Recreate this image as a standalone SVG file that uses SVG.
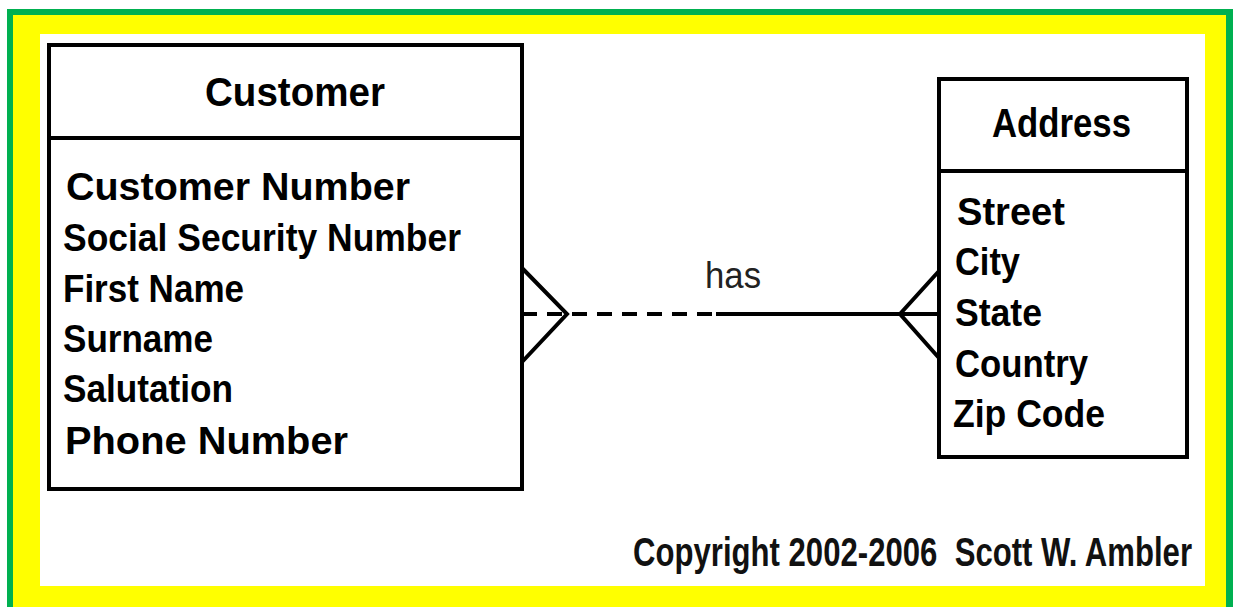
<svg xmlns="http://www.w3.org/2000/svg" width="1233" height="607" viewBox="0 0 1233 607">
  <style>
    .box { fill: #ffffff; stroke: #000000; stroke-width: 4; }
    .rule { stroke: #000000; stroke-width: 4; }
    .title { font-family: "Liberation Sans", Arial, sans-serif; font-weight: bold; font-size: 40px; fill: #000000; }
    .attr { font-family: "Liberation Sans", Arial, sans-serif; font-weight: bold; font-size: 38px; fill: #000000; }
    .link { fill: none; stroke: #000000; stroke-width: 4; }
    .dashed { stroke-dasharray: 15 10; }
    .label { font-family: "Liberation Sans", Arial, sans-serif; font-size: 36px; fill: #222222; }
    .copy { font-family: "Liberation Sans", Arial, sans-serif; font-weight: bold; font-size: 40px; fill: #111111; }
  </style>

  <!-- frame: green edge, yellow band, white canvas -->
  <rect x="0" y="0" width="1233" height="607" fill="#ffffff"/>
  <rect x="7" y="9" width="1226" height="598" fill="#00b050"/>
  <rect x="13" y="15" width="1213" height="592" fill="#ffff00"/>
  <rect x="40" y="34" width="1165" height="552" fill="#ffffff"/>

  <!-- relationship -->
  <g id="connectors">
    <line class="link dashed" x1="522" y1="314" x2="716" y2="314"/>
    <line class="link" x1="716" y1="314" x2="939" y2="314"/>
    <polyline class="link" points="522,268 567,314 522,362"/>
    <polyline class="link" points="939,271 900,314 939,358"/>
    <text class="label" x="705" y="288" textLength="56" lengthAdjust="spacingAndGlyphs">has</text>
  </g>

  <g id="customer">
    <rect class="box" x="49" y="45" width="473" height="444"/>
    <line class="rule" x1="49" y1="138" x2="522" y2="138"/>
    <text class="title" x="205" y="106" textLength="180" lengthAdjust="spacingAndGlyphs">Customer</text>
    <text class="attr" x="66" y="200" textLength="344" lengthAdjust="spacingAndGlyphs">Customer Number</text>
    <text class="attr" x="63" y="251" textLength="398" lengthAdjust="spacingAndGlyphs">Social Security Number</text>
    <text class="attr" x="63" y="302" textLength="181" lengthAdjust="spacingAndGlyphs">First Name</text>
    <text class="attr" x="63" y="352" textLength="150" lengthAdjust="spacingAndGlyphs">Surname</text>
    <text class="attr" x="63" y="402" textLength="170" lengthAdjust="spacingAndGlyphs">Salutation</text>
    <text class="attr" x="65" y="454" textLength="283" lengthAdjust="spacingAndGlyphs">Phone Number</text>
  </g>

  <g id="address">
    <rect class="box" x="939" y="79" width="248" height="378"/>
    <line class="rule" x1="939" y1="171" x2="1187" y2="171"/>
    <text class="title" x="992" y="137" textLength="139" lengthAdjust="spacingAndGlyphs">Address</text>
    <text class="attr" x="957" y="225" textLength="108" lengthAdjust="spacingAndGlyphs">Street</text>
    <text class="attr" x="955" y="275" textLength="65" lengthAdjust="spacingAndGlyphs">City</text>
    <text class="attr" x="955" y="326" textLength="87" lengthAdjust="spacingAndGlyphs">State</text>
    <text class="attr" x="955" y="377" textLength="133" lengthAdjust="spacingAndGlyphs">Country</text>
    <text class="attr" x="953" y="427" textLength="152" lengthAdjust="spacingAndGlyphs">Zip Code</text>
  </g>

  <!-- condensed credit line -->
  <text id="copyright" class="copy" transform="translate(633,566) scale(0.778,1)" x="0" y="0" xml:space="preserve">Copyright 2002-2006  Scott W. Ambler</text>
</svg>
